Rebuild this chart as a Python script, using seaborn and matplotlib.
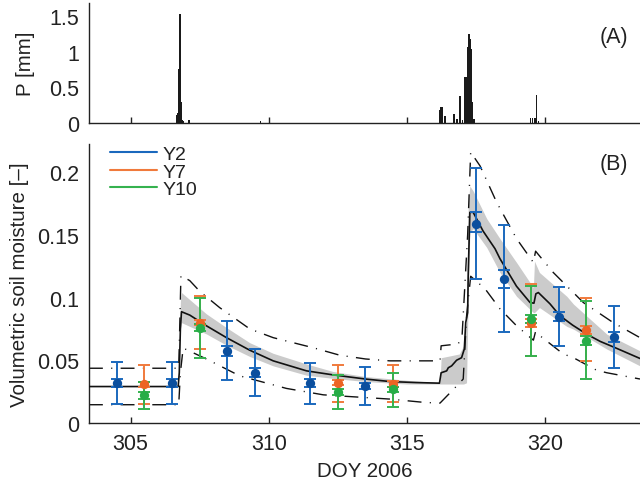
import numpy as np
import matplotlib
matplotlib.use('Agg')
import matplotlib.pyplot as plt
import seaborn as sns

# ---- precipitation (panel A) ----
rain_day = [306.65, 306.70, 306.74, 306.78, 306.80, 306.82, 306.86, 306.90, 307.11,
            309.71, 316.20, 316.24, 316.28, 316.38, 316.71, 316.82, 316.92, 317.01,
            317.10, 317.16, 317.20, 317.25, 317.29, 317.34, 317.37, 317.43,
            319.48, 319.55, 319.64, 319.70, 319.76]
rain_mm = [0.12, 0.14, 0.75, 1.53, 0.85, 0.30, 0.04, 0.03, 0.04,
           0.03, 0.18, 0.22, 0.23, 0.10, 0.13, 0.06, 0.38, 0.05,
           0.64, 0.65, 1.07, 1.24, 1.18, 1.03, 0.30, 0.06,
           0.07, 0.07, 0.07, 0.40, 0.03]

# ---- model (panel B) ----
model_day = [303.49, 306.72, 306.76, 306.80, 306.84, 307.14, 307.74, 308.47, 309.31,
             310.16, 311.37, 312.33, 313.50, 314.38, 315.30, 316.18, 316.24, 316.44,
             316.50, 316.62, 316.80, 316.98, 317.08, 317.13, 317.20, 317.22, 317.28,
             317.40, 317.76, 318.19, 318.37, 318.97, 319.46, 319.60, 319.67, 319.76,
             320.18, 320.54, 321.00, 321.51, 322.00, 322.54, 323.44]
model_sm = [0.029, 0.029, 0.040, 0.075, 0.0887, 0.086, 0.0775, 0.068, 0.058,
            0.0495, 0.0415, 0.0383, 0.035, 0.033, 0.0322, 0.0317, 0.040, 0.0415,
            0.044, 0.0455, 0.050, 0.052, 0.059, 0.080, 0.088, 0.117, 0.168,
            0.168, 0.153, 0.139, 0.131, 0.109, 0.096, 0.0955, 0.103, 0.104,
            0.095, 0.0855, 0.078, 0.0708, 0.065, 0.060, 0.0514]

band_day = [303.49, 306.72, 306.80, 306.84, 307.74, 308.47, 309.31, 310.16, 311.37,
            312.33, 313.50, 315.00, 316.20, 316.24, 316.90, 317.05, 317.16, 317.22,
            317.28, 317.40, 317.89, 318.37, 318.97, 319.58, 319.62, 319.80, 320.79,
            321.03, 322.24, 323.44]
band_lo = [0.029, 0.029, 0.075, 0.080, 0.071, 0.062, 0.053, 0.0455, 0.0380,
           0.0355, 0.033, 0.031, 0.031, 0.031, 0.031, 0.031, 0.032, 0.100,
           0.152, 0.155, 0.140, 0.120, 0.101, 0.088, 0.088, 0.092, 0.077,
           0.0748, 0.0589, 0.0455]
band_hi = [0.029, 0.029, 0.097, 0.104, 0.087, 0.076, 0.064, 0.0555, 0.047,
           0.041, 0.037, 0.034, 0.032, 0.052, 0.055, 0.0615, 0.080, 0.175,
           0.189, 0.185, 0.163, 0.147, 0.128, 0.108, 0.129, 0.120, 0.101,
           0.0948, 0.0708, 0.0575]

upper_day = [303.49, 306.74, 306.78, 306.82, 307.14, 307.50, 308.22, 309.31, 310.16,
             311.60, 312.57, 313.50, 314.38, 316.20, 316.24, 316.86, 317.00, 317.20,
             317.31, 317.65, 318.25, 318.97, 319.58, 319.66, 320.30, 321.39, 322.47,
             323.44]
upper_sm = [0.0436, 0.0436, 0.080, 0.1175, 0.1135, 0.105, 0.092, 0.075, 0.068,
            0.060, 0.054, 0.051, 0.0495, 0.0495, 0.0615, 0.063, 0.070, 0.150,
            0.216, 0.205, 0.176, 0.147, 0.128, 0.137, 0.120, 0.096, 0.080,
            0.068]

lower_day = [303.49, 306.74, 306.80, 306.90, 307.74, 308.95, 310.64, 311.97, 312.57,
             314.38, 315.65, 316.20, 316.74, 317.04, 317.16, 317.31, 317.83, 318.37,
             318.97, 319.58, 319.66, 319.82, 320.66, 321.03, 321.87, 322.24, 323.44]
lower_sm = [0.0145, 0.0145, 0.040, 0.0597, 0.051, 0.0375, 0.0275, 0.0224, 0.0215,
            0.019, 0.0163, 0.0158, 0.028, 0.035, 0.085, 0.117, 0.107, 0.091,
            0.0775, 0.066, 0.073, 0.0695, 0.055, 0.052, 0.042, 0.040, 0.035]

# ---- observations (mean, inner bar, outer bar) ----
y2_day = [304.5, 306.5, 308.5, 309.5, 311.5, 313.5, 317.5, 318.5, 320.5, 322.5]
y2_mean = [0.032, 0.032, 0.0577, 0.040, 0.032, 0.0295, 0.159, 0.115, 0.0848, 0.0683]
y2_in_lo = [0.029, 0.029, 0.0535, 0.0364, 0.029, 0.0269, 0.152, 0.108, 0.0811, 0.0642]
y2_in_hi = [0.0348, 0.0348, 0.0614, 0.0434, 0.0348, 0.0316, 0.168, 0.122, 0.0886, 0.0727]
y2_out_lo = [0.0149, 0.0149, 0.034, 0.0213, 0.0154, 0.0141, 0.115, 0.0726, 0.0614, 0.0436]
y2_out_hi = [0.0487, 0.0487, 0.0814, 0.0588, 0.0476, 0.0447, 0.203, 0.158, 0.1085, 0.093]

y7_day = [305.5, 307.5, 312.5, 314.5, 319.5, 321.5]
y7_mean = [0.031, 0.080, 0.032, 0.031, 0.080, 0.0743]
y7_in_lo = [0.029, 0.078, 0.030, 0.029, 0.0766, 0.071]
y7_in_hi = [0.0327, 0.0824, 0.0343, 0.0335, 0.083, 0.077]
y7_out_lo = [0.0154, 0.0588, 0.017, 0.017, 0.0535, 0.049]
y7_out_hi = [0.046, 0.101, 0.046, 0.046, 0.111, 0.0993]

y10_day = [305.5, 307.5, 312.5, 314.5, 319.5, 321.5]
y10_mean = [0.022, 0.076, 0.0247, 0.0269, 0.0827, 0.0656]
y10_in_lo = [0.0194, 0.0733, 0.0226, 0.0248, 0.0795, 0.0625]
y10_in_hi = [0.025, 0.0787, 0.0268, 0.029, 0.086, 0.069]
y10_out_lo = [0.0114, 0.052, 0.0114, 0.0128, 0.053, 0.035]
y10_out_hi = [0.033, 0.100, 0.038, 0.0396, 0.109, 0.0975]

series = [
    ('Y2', '#1a68bd', '#0b4f9e', y2_day, y2_mean, y2_in_lo, y2_in_hi, y2_out_lo, y2_out_hi),
    ('Y7', '#f07a3c', '#ec6424', y7_day, y7_mean, y7_in_lo, y7_in_hi, y7_out_lo, y7_out_hi),
    ('Y10', '#35b24f', '#27ad47', y10_day, y10_mean, y10_in_lo, y10_in_hi, y10_out_lo, y10_out_hi),
]

TICK_FS = 15.5
LABEL_FS = 14.8
LEG_FS = 14
TXT = '#222222'

sns.set_theme(style='ticks')
plt.rcParams['font.family'] = ['Liberation Sans', 'DejaVu Sans']

fig = plt.figure(figsize=(6.4, 4.85), dpi=100)
ax_p = fig.add_axes([0.139, 0.744, 0.861, 0.248])
ax_s = fig.add_axes([0.139, 0.126, 0.861, 0.575])
xlim = (303.49, 323.44)

# panel A: rain
ax_p.bar(rain_day, rain_mm, width=0.05, color='#1a1a1a', linewidth=0)
ax_p.set_xlim(xlim)
ax_p.set_ylim(0, 1.68)
ax_p.set_yticks([0, 0.5, 1, 1.5])
ax_p.set_yticklabels(['0', '0.5', '1', '1.5'])
ax_p.set_xticks([305, 310, 315, 320])
ax_p.set_xticklabels([])
ax_p.set_ylabel('P [mm]', fontsize=LABEL_FS, labelpad=10)
ax_p.text(0.953, 0.72, '(A)', transform=ax_p.transAxes, ha='center', va='center',
          fontsize=TICK_FS, color=TXT)

# panel B: soil moisture
ax_s.fill_between(band_day, band_lo, band_hi, color='#cbcbcb', linewidth=0, zorder=1)
sns.lineplot(x=model_day, y=model_sm, ax=ax_s, color='#111111', linewidth=1.2,
             estimator=None, sort=False, zorder=3)
dashdot = (0, (10, 6, 0.8, 6))
ax_s.plot(upper_day, upper_sm, color='#111111', linewidth=1.0, linestyle=dashdot, zorder=2)
ax_s.plot(lower_day, lower_sm, color='#111111', linewidth=1.0, linestyle=dashdot, zorder=2)

handles = []
for name, ecol, mcol, d, m, ilo, ihi, olo, ohi in series:
    m = np.array(m)
    ax_s.errorbar(d, m, yerr=[m - np.array(olo), np.array(ohi) - m], fmt='none',
                  ecolor=ecol, elinewidth=1.4, capsize=4, capthick=1.4, zorder=4)
    ax_s.errorbar(d, m, yerr=[m - np.array(ilo), np.array(ihi) - m], fmt='none',
                  ecolor=ecol, elinewidth=1.4, capsize=4, capthick=1.4, zorder=4)
    sns.scatterplot(x=d, y=m, ax=ax_s, color=mcol, s=45, linewidth=0, zorder=5)
    handles.append(plt.Line2D([], [], color=ecol, linewidth=1.5, label=name))

leg = ax_s.legend(handles=handles, loc='upper left', bbox_to_anchor=(0.038, 0.995),
                  frameon=False, handlelength=2.4, handletextpad=0.3, labelspacing=0.0,
                  borderpad=0, borderaxespad=0, fontsize=LEG_FS)
for t in leg.get_texts():
    t.set_color(TXT)
ax_s.set_xlim(xlim)
ax_s.set_ylim(0, 0.2225)
ax_s.set_yticks([0, 0.05, 0.1, 0.15, 0.2])
ax_s.set_yticklabels(['0', '0.05', '0.1', '0.15', '0.2'])
ax_s.set_xticks([305, 310, 315, 320])
ax_s.set_xticklabels(['305', '310', '315', '320'])
ax_s.set_xlabel('DOY 2006', fontsize=LABEL_FS, labelpad=5)
ax_s.set_ylabel('Volumetric soil moisture [–]', fontsize=LABEL_FS, labelpad=6)
ax_s.text(0.953, 0.93, '(B)', transform=ax_s.transAxes, ha='center', va='center',
          fontsize=TICK_FS, color=TXT)

for ax in (ax_p, ax_s):
    sns.despine(ax=ax)
    for sp in ('left', 'bottom'):
        ax.spines[sp].set_linewidth(1.0)
        ax.spines[sp].set_color(TXT)
    ax.tick_params(axis='x', direction='in', length=4, width=1, colors=TXT,
                   labelsize=TICK_FS, pad=7, labelcolor=TXT)
    ax.tick_params(axis='y', length=0, labelsize=TICK_FS, pad=7, labelcolor=TXT)
    ax.xaxis.label.set_color(TXT)
    ax.yaxis.label.set_color(TXT)

fig.savefig('out.png', dpi=100)
